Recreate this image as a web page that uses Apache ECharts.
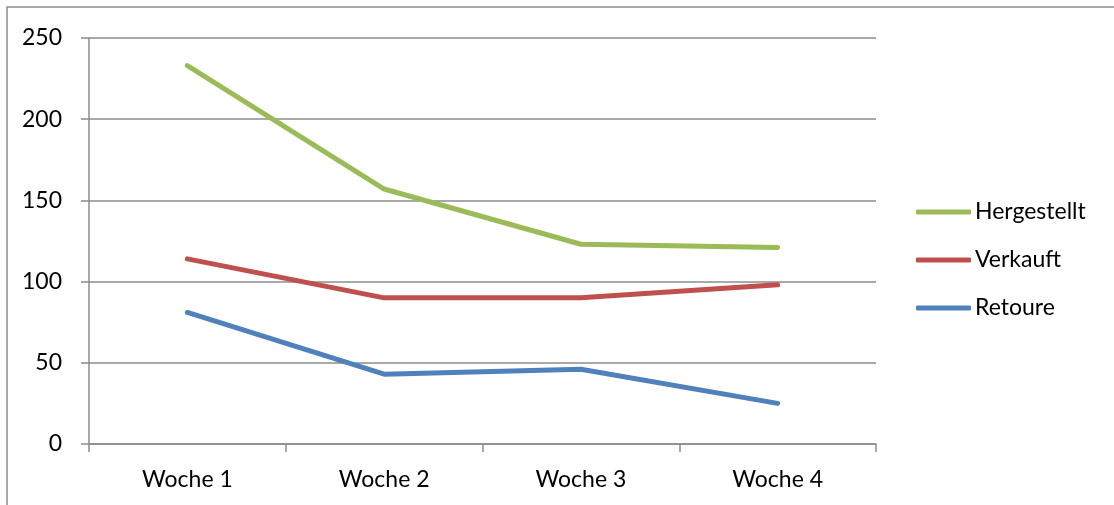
<!DOCTYPE html>
<html>
<head>
<meta charset="utf-8">
<script src="https://cdn.jsdelivr.net/npm/echarts@6/dist/echarts.min.js"></script>
<style>
  html, body { margin: 0; padding: 0; background: #fff; }
  #chart { width: 1114px; height: 505px; }
</style>
</head>
<body>
<div id="chart"></div>
<script>
// Weekly figures
const weeks = ['Woche 1', 'Woche 2', 'Woche 3', 'Woche 4'];
const hergestellt = [233, 157, 123, 121];
const verkauft = [114, 90, 90, 98];
const retoure = [81, 43, 46, 25];

const FONT = 'Lato';
const axisGray = '#8c8c8c';

const chart = echarts.init(document.getElementById('chart'), null, { renderer: 'canvas' });

chart.setOption({
  animation: false,
  backgroundColor: '#ffffff',
  graphic: [{
    type: 'rect',
    shape: { x: 7, y: 7, width: 1200, height: 600 },
    style: { fill: 'none', stroke: '#8c8c8c', lineWidth: 1.5 },
    silent: true
  }],
  grid: { left: 89, right: 238, top: 38, bottom: 61, containLabel: false },
  legend: {
    orient: 'vertical',
    left: 911,
    top: 195,
    itemWidth: 55,
    itemHeight: 5,
    itemGap: 24,
    icon: 'roundRect',
    textStyle: { fontFamily: FONT, fontSize: 23, color: '#000', padding: [0, 0, 0, -1], lineHeight: 24 },
    data: ['Hergestellt', 'Verkauft', 'Retoure']
  },
  xAxis: {
    type: 'category',
    data: weeks,
    boundaryGap: true,
    axisLine: { show: true, lineStyle: { color: axisGray, width: 1.5 } },
    axisTick: { show: true, length: 8, inside: false, lineStyle: { color: axisGray, width: 1.5 } },
    axisLabel: { margin: 24, fontFamily: FONT, fontSize: 23, color: '#000' },
    splitLine: { show: false }
  },
  yAxis: {
    type: 'value',
    min: 0,
    max: 250,
    interval: 50,
    axisLine: { show: true, lineStyle: { color: axisGray, width: 1.5 } },
    axisTick: { show: true, length: 8, inside: false, lineStyle: { color: axisGray, width: 1.5 } },
    axisLabel: { margin: 27, fontFamily: FONT, fontSize: 23, color: '#000' },
    splitLine: { show: true, lineStyle: { color: axisGray, width: 1.5 } }
  },
  series: [
    {
      name: 'Hergestellt', type: 'line', data: hergestellt,
      symbol: 'none', color: '#9BBB59',
      lineStyle: { width: 5, cap: 'round', join: 'round' }
    },
    {
      name: 'Verkauft', type: 'line', data: verkauft,
      symbol: 'none', color: '#C0504D',
      lineStyle: { width: 5, cap: 'round', join: 'round' }
    },
    {
      name: 'Retoure', type: 'line', data: retoure,
      symbol: 'none', color: '#4F81BD',
      lineStyle: { width: 5, cap: 'round', join: 'round' }
    }
  ]
});
</script>
</body>
</html>
